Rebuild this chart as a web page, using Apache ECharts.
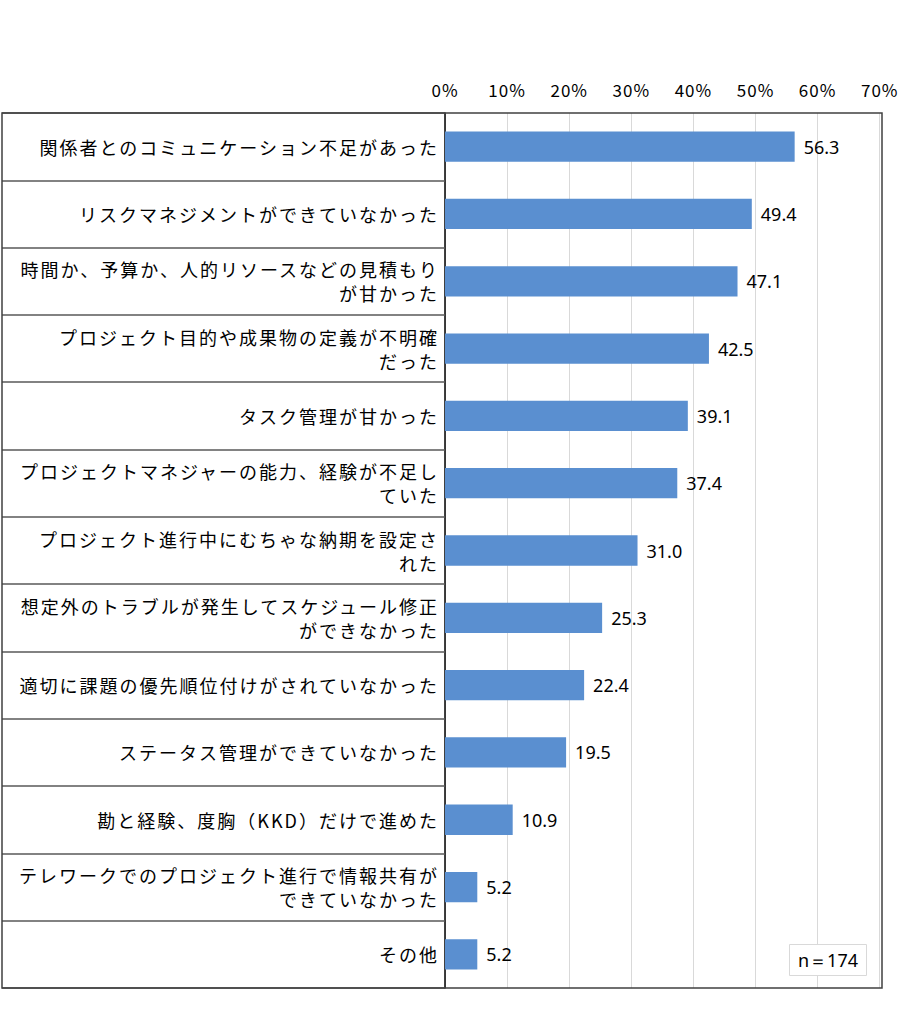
<!DOCTYPE html>
<html>
<head>
<meta charset="utf-8">
<script src="https://cdn.jsdelivr.net/npm/echarts@6/dist/echarts.min.js"></script>
<style>
	html, body { margin: 0; padding: 0; background: #fff; }
	#main { width: 900px; height: 1020px; }
	/* 日本語ラベルと目盛は字間を広げる */
	#main text[style*="CJK"][style*="18px"] { letter-spacing: 2px; }
	#main text[style*="CJK"][style*="17px"] { letter-spacing: 1px; }
</style>
</head>
<body>
<div id="main"></div>
<script>
// 項目名（上から順）
var categories = [
	'関係者とのコミュニケーション不足があった',
	'リスクマネジメントができていなかった',
	'時間か、予算か、人的リソースなどの見積もり\nが甘かった',
	'プロジェクト目的や成果物の定義が不明確\nだった',
	'タスク管理が甘かった',
	'プロジェクトマネジャーの能力、経験が不足し\nていた',
	'プロジェクト進行中にむちゃな納期を設定さ\nれた',
	'想定外のトラブルが発生してスケジュール修正\nができなかった',
	'適切に課題の優先順位付けがされていなかった',
	'ステータス管理ができていなかった',
	'勘と経験、度胸（KKD）だけで進めた',
	'テレワークでのプロジェクト進行で情報共有が\nできていなかった',
	'その他'
];
// 割合（％）
var values = [56.3, 49.4, 47.1, 42.5, 39.1, 37.4, 31.0, 25.3, 22.4, 19.5, 10.9, 5.2, 5.2];
// 目盛
var xTicks = [0, 10, 20, 30, 40, 50, 60, 70];
var sampleText = 'n＝174';

var jpFont = '"Noto Sans CJK JP", sans-serif';

var myChart = echarts.init(document.getElementById('main'), null, { renderer: 'svg' });

var option = {
	backgroundColor: '#ffffff',
	animation: false,
	grid: {
		left: 445,
		right: 18,
		top: 113,
		bottom: 32
	},
	title: {
		text: sampleText,
		right: 33,
		bottom: 44,
		padding: [7, 9, 7, 9],
		borderColor: '#d9d9d9',
		borderWidth: 1,
		backgroundColor: '#ffffff',
		textStyle: {
			fontFamily: '"Noto Sans", sans-serif',
			fontSize: 18,
			fontWeight: 'normal',
			color: '#000'
		}
	},
	xAxis: {
		type: 'value',
		position: 'top',
		min: xTicks[0],
		max: xTicks[xTicks.length - 1],
		interval: 10,
		axisLine: { show: false },
		axisTick: { show: false },
		axisLabel: {
			margin: 15,
			fontFamily: jpFont,
			fontSize: 17,
			color: '#000',
			formatter: '{value}%'
		},
		splitLine: {
			lineStyle: { color: '#d9d9d9', width: 1 }
		}
	},
	yAxis: {
		type: 'category',
		inverse: true,
		data: categories,
		axisLine: {
			lineStyle: { color: '#000', width: 1.5 }
		},
		axisTick: {
			show: true,
			interval: 0,
			length: 443, // 左側の表の罫線として使う
			lineStyle: { color: '#595959', width: 1.5 }
		},
		axisLabel: {
			margin: 6,
			interval: 0,
			fontFamily: jpFont,
			fontSize: 18,
			lineHeight: 24,
			color: '#000',
			align: 'right'
		}
	},
	graphic: [{
		type: 'rect',
		shape: { x: 2, y: 113, width: 880, height: 875 },
		style: { fill: 'none', stroke: '#404040', lineWidth: 1.5 },
		silent: true,
		z: 10
	}],
	series: [{
		type: 'bar',
		data: values,
		barWidth: '45%',
		itemStyle: { color: '#5a8fd0' },
		label: {
			show: true,
			position: 'right',
			distance: 9,
			fontFamily: '"Noto Sans", sans-serif',
			fontSize: 18,
			color: '#000',
			formatter: function(p) {
				return p.value.toFixed(1);
			}
		}
	}]
};

myChart.setOption(option);
</script>
</body>
</html>
